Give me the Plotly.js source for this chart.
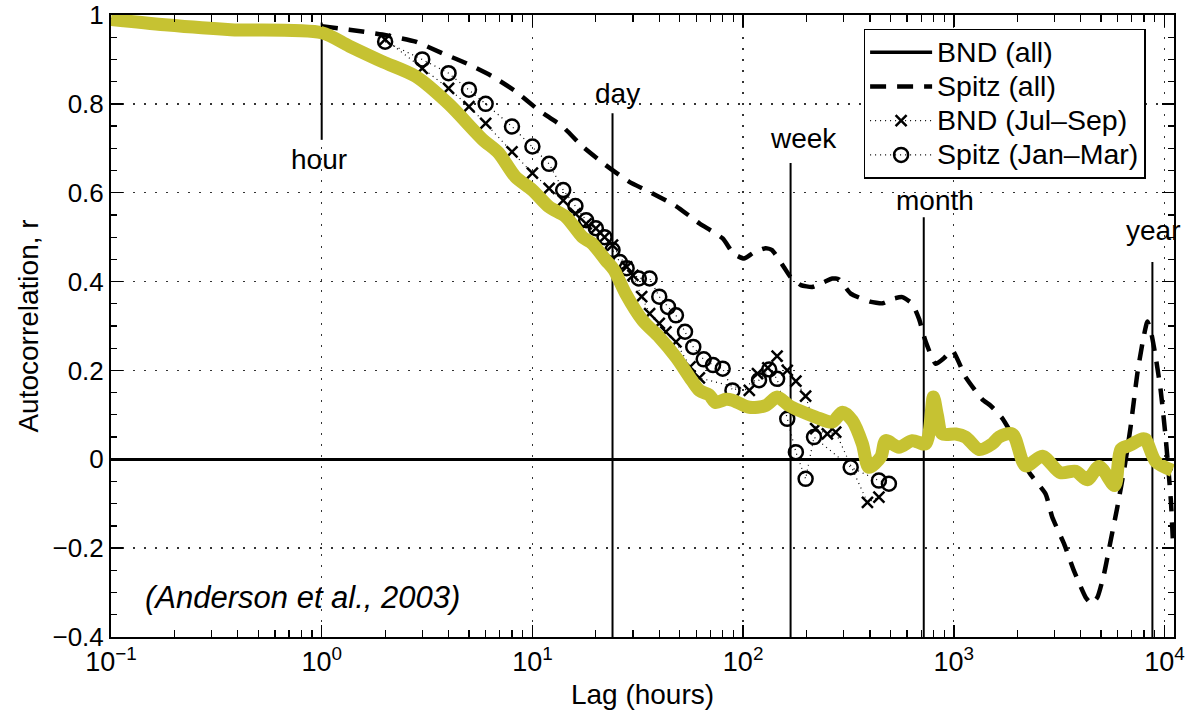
<!DOCTYPE html>
<html>
<head>
<meta charset="utf-8">
<script src="https://cdn.plot.ly/plotly-3.0.1.min.js"></script>
<style>html,body{margin:0;padding:0;background:#fff;}#chart{width:1188px;height:716px;}</style>
</head>
<body>
<div id="chart"></div>
<script>
// BND (all) — lag in hours, autocorrelation r
const lagBND = [0.1, 0.18, 0.37, 1.0, 1.35, 1.94, 2.79, 4.0, 5.8, 6.9,
  8.3, 10, 12, 14.4, 17.3, 19.2, 22.3, 24.4, 27.7, 33.3,
  40, 48, 57, 62, 69, 74, 83, 89, 107, 128,
  145, 165, 184, 221, 265, 296, 330, 368, 395, 450,
  475, 549, 635, 735, 800, 835, 882, 1021, 1138, 1318,
  1523, 1637, 1895, 2192, 2630, 3200, 3786, 4300, 4900, 5800,
  6200, 6800, 7850, 8130, 9080, 10900];
const rBND = [0.99, 0.978, 0.967, 0.96, 0.93, 0.895, 0.862, 0.80, 0.72, 0.69,
  0.636, 0.606, 0.568, 0.546, 0.50, 0.486, 0.448, 0.426, 0.373, 0.313,
  0.275, 0.23, 0.178, 0.155, 0.145, 0.128, 0.135, 0.133, 0.117, 0.121,
  0.14, 0.121, 0.11, 0.095, 0.084, 0.106, 0.087, 0.035, -0.018, 0.005,
  0.042, 0.027, 0.042, 0.035, 0.14, 0.1, 0.057, 0.057, 0.05, 0.022,
  0.035, 0.05, 0.057, -0.015, 0.007, -0.03, -0.027, -0.046, -0.016, -0.059,
  0.022, 0.031, 0.046, 0.045, -0.005, -0.025];

// Spitz (all)
const lagSpitz = [1.0, 1.35, 1.94, 2.79, 3.73, 4.82, 6.45, 8.33, 10.7, 13.9,
  17.3, 22, 28.7, 37, 48, 62, 80, 90, 101, 112,
  128, 137, 156, 168, 188, 213, 240, 265, 285, 324,
  400, 458, 520, 570, 635, 684, 735, 820, 900, 984,
  1138, 1365, 1500, 1700, 2037, 2275, 2727, 2930, 3334, 3718,
  4227, 4500, 4800, 5164, 5551, 5970, 6500, 6900, 7160, 7430,
  7850, 8290, 8600, 9080, 9590, 10120, 10720, 11000];
const rSpitz = [0.975, 0.967, 0.956, 0.94, 0.914, 0.892, 0.862, 0.828, 0.786, 0.749,
  0.704, 0.664, 0.625, 0.599, 0.57, 0.531, 0.497, 0.463, 0.452, 0.465,
  0.475, 0.471, 0.433, 0.41, 0.392, 0.388, 0.398, 0.407, 0.405, 0.373,
  0.355, 0.351, 0.362, 0.365, 0.35, 0.316, 0.265, 0.215, 0.228, 0.245,
  0.185, 0.135, 0.12, 0.092, 0.027, -0.029, -0.078, -0.13, -0.19, -0.251,
  -0.311, -0.325, -0.311, -0.258, -0.183, -0.108, -0.01, 0.072, 0.133, 0.193,
  0.26, 0.31, 0.29, 0.23, 0.155, 0.05, -0.093, -0.2];

// BND (Jul–Sep)
const lagBNDq = [2, 3, 4, 5, 6, 8, 10, 12, 14, 16,
  18, 20, 22, 24, 28, 30, 33, 36, 40, 43,
  48, 56, 62, 107, 117, 131, 145, 162, 178, 198,
  221, 251, 275, 389, 441];
const rBNDq = [0.945, 0.88, 0.835, 0.794, 0.756, 0.692, 0.644, 0.61, 0.583, 0.553,
  0.53, 0.52, 0.50, 0.482, 0.433, 0.414, 0.366, 0.328, 0.306, 0.287,
  0.264, 0.208, 0.183, 0.155, 0.193, 0.206, 0.232, 0.20, 0.176, 0.142,
  0.069, 0.057, 0.061, -0.097, -0.085];

// Spitz (Jan–Mar)
const lagSpitzq = [2, 3, 4, 5, 6, 8, 10, 12, 14, 16,
  18, 20, 22, 24, 26, 28, 32, 36, 40, 44,
  48, 53, 58, 65, 72, 80, 89, 119, 133, 145,
  162, 178, 198, 217, 324, 441, 492];
const rSpitzq = [0.94, 0.90, 0.869, 0.832, 0.80, 0.749, 0.704, 0.665, 0.606, 0.57,
  0.538, 0.52, 0.50, 0.471, 0.444, 0.43, 0.407, 0.407, 0.366, 0.343,
  0.324, 0.287, 0.253, 0.225, 0.212, 0.204, 0.155, 0.178, 0.202, 0.181,
  0.091, 0.016, -0.044, 0.05, -0.018, -0.048, -0.055];

// Reference time scales
const eventLag = [1, 24, 168, 720, 8760];
const eventLabel = ['hour', 'day', 'week', 'month', 'year'];
const eventTop = [0.983, 0.779, 0.667, 0.545, 0.444];
const eventBottom = [0.719, -0.4, -0.4, -0.4, -0.4];
const eventLabelY = [0.674, 0.824, 0.723, 0.583, 0.516];

// Series names and axis ticks
const seriesNames = ['BND (all)', 'Spitz (all)', 'BND (Jul\u2013Sep)', 'Spitz (Jan\u2013Mar)'];
const xTickVals = [0.1, 1, 10, 100, 1000, 10000];
const xTickText = ['10<sup>\u22121</sup>', '10<sup>0</sup>', '10<sup>1</sup>', '10<sup>2</sup>', '10<sup>3</sup>', '10<sup>4</sup>'];

// ---- presentation ----
const FONT = 'Liberation Sans, Arial, Helvetica, sans-serif';
const LABEL_XSHIFT = {hour: -3, day: 5, week: 13, month: 11, year: 1};
const legendName = s => '<span style="font-size:28.5px">' + s + '</span>';

const minorX = [];
for (let e = -1; e <= 4; e++) for (let d = 2; d <= 9; d++) minorX.push(d * Math.pow(10, e));

const evX = [], evY = [];
eventLag.forEach((v, i) => { evX.push(v, v, null); evY.push(eventTop[i], eventBottom[i], null); });

const traces = [
  {x: evX, y: evY, mode: 'lines', line: {color: 'black', width: 2}, showlegend: false, hoverinfo: 'skip'},
  {x: lagBND, y: rBND, mode: 'lines', name: legendName(seriesNames[0]), line: {color: 'black', width: 3.5}},
  {x: lagSpitz, y: rSpitz, mode: 'lines', name: legendName(seriesNames[1]),
    line: {color: 'black', width: 4.5, dash: '16px,11px', shape: 'spline', smoothing: 0.5}},
  {x: lagBNDq, y: rBNDq, mode: 'lines+markers', name: legendName(seriesNames[2]),
    line: {color: 'black', width: 1.2, dash: '1px,4px'},
    marker: {symbol: 'x-thin-open', size: 11, color: 'black', line: {color: 'black', width: 2.5}}},
  {x: lagSpitzq, y: rSpitzq, mode: 'lines+markers', name: legendName(seriesNames[3]),
    line: {color: 'black', width: 1.2, dash: '1px,4px'},
    marker: {symbol: 'circle-open', size: 14, color: 'black', line: {color: 'black', width: 2.5}}},
  {x: lagBND, y: rBND, mode: 'lines', showlegend: false, hoverinfo: 'skip',
    line: {color: '#c6c232', width: 13, shape: 'spline', smoothing: 0.8}}
];

const annotations = eventLabel.map((t, i) => ({
  x: Math.log10(eventLag[i]), y: eventLabelY[i], xref: 'x', yref: 'y', text: t,
  xshift: LABEL_XSHIFT[t],
  showarrow: false, xanchor: 'center', yanchor: 'middle', font: {size: 28, family: FONT, color: 'black'}
}));
annotations.push({
  x: 0.030, xref: 'paper', y: -0.312, yref: 'y', text: '(Anderson et al., 2003)',
  showarrow: false, xanchor: 'left', yanchor: 'middle',
  font: {size: 31, family: FONT, color: 'black', style: 'italic'}
});

const layout = {
  width: 1188, height: 716,
  margin: {l: 111, r: 14, t: 15, b: 79},
  paper_bgcolor: 'white', plot_bgcolor: 'white',
  font: {family: FONT, size: 28, color: 'black'},
  showlegend: true,
  legend: {x: 0.708, y: 0.978, xanchor: 'left', yanchor: 'top', bgcolor: 'white',
    bordercolor: 'black', borderwidth: 1.5, font: {size: 24, family: FONT}, itemwidth: 62, tracegroupgap: 0},
  xaxis: {
    type: 'log', range: [-1, 4.045], tickmode: 'array', tickvals: xTickVals, ticktext: xTickText,
    ticks: 'inside', ticklen: 12, tickwidth: 1.5, tickcolor: 'black',
    showline: true, linecolor: 'black', linewidth: 2, mirror: 'ticks',
    showgrid: true, gridcolor: '#333', griddash: '2px,9px', gridwidth: 1.3, zeroline: false,
    minor: {tickvals: minorX, ticks: 'inside', ticklen: 7, tickwidth: 1.2, tickcolor: 'black', showgrid: false},
    tickfont: {size: 27, family: FONT},
    title: {text: 'Lag (hours)', font: {size: 28, family: FONT}, standoff: 8}
  },
  yaxis: {
    range: [-0.4, 1], tick0: 0, dtick: 0.2,
    ticks: 'inside', ticklen: 12, tickwidth: 1.5, tickcolor: 'black',
    showline: true, linecolor: 'black', linewidth: 2, mirror: 'ticks',
    showgrid: true, gridcolor: '#333', griddash: '2px,9px', gridwidth: 1.3,
    zeroline: true, zerolinecolor: 'black', zerolinewidth: 2.5,
    minor: {dtick: 0.05, ticks: 'inside', ticklen: 6, tickwidth: 1.2, tickcolor: 'black', showgrid: false},
    tickfont: {size: 26, family: FONT},
    title: {text: 'Autocorrelation, r', font: {size: 28, family: FONT}, standoff: 6}
  },
  annotations: annotations
};

Plotly.newPlot('chart', traces, layout, {staticPlot: true});
</script>
</body>
</html>
